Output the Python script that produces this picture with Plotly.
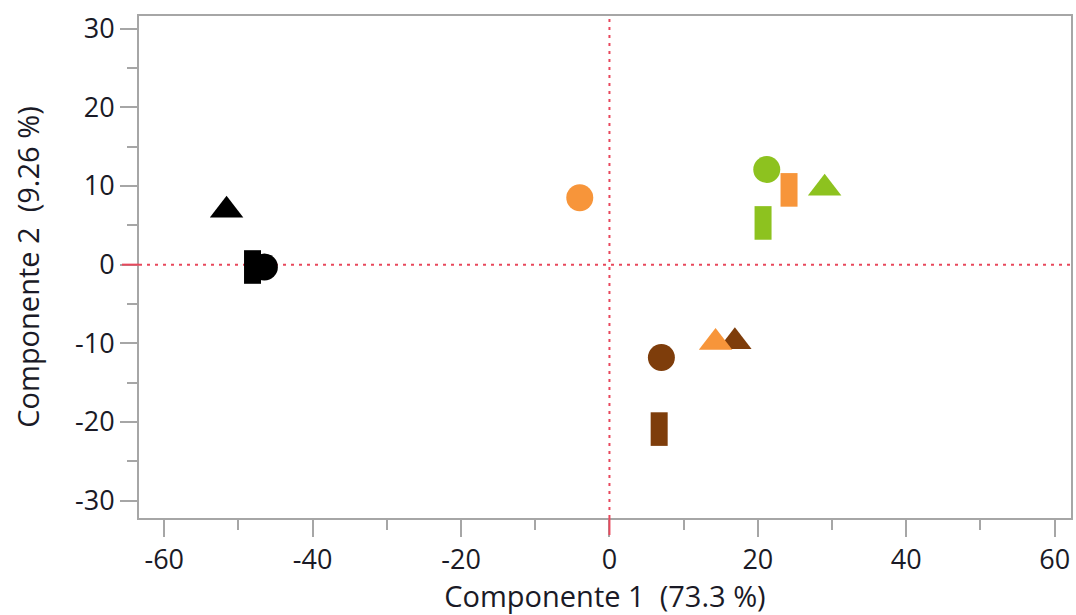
import plotly.graph_objects as go

# Scores (Componente 1, Componente 2)
group_colors = {"Negro": "#000000", "Naranja": "#F7953A", "Verde": "#8DC21F", "Marrón": "#7E3D0B"}

# circles
circle_group = ["Negro", "Naranja", "Verde", "Marrón"]
circle_x = [-46.5, -4.0, 21.2, 7.0]
circle_y = [-0.3, 8.5, 12.1, -11.8]

# rectangles
rect_group = ["Negro", "Naranja", "Verde", "Marrón"]
rect_x = [-48.1, 24.2, 20.7, 6.7]
rect_y = [-0.3, 9.5, 5.3, -20.9]

# triangles (brown drawn before orange so orange sits on top)
tri_group = ["Negro", "Verde", "Marrón", "Naranja"]
tri_x = [-51.6, 29.0, 16.9, 14.3]
tri_y = [6.9, 9.7, -9.8, -9.9]

x_ticks = [-60, -40, -20, 0, 20, 40, 60]
y_ticks = [-30, -20, -10, 0, 10, 20, 30]

AXIS_GRAY = "#A6A6A6"
REF_RED = "#E8485C"
TEXT = "#1A1A26"
FONT = "Open Sans"

fig = go.Figure()

fig.add_trace(go.Scatter(
    x=circle_x, y=circle_y, mode="markers",
    marker=dict(symbol="circle", size=27, color=[group_colors[g] for g in circle_group],
                line=dict(width=0)),
    hoverinfo="x+y", showlegend=False, cliponaxis=False))

rect_colors = [group_colors[g] for g in rect_group]
fig.add_trace(go.Scatter(
    x=rect_x, y=rect_y, mode="markers",
    marker=dict(symbol="line-ns-open", size=24, color=rect_colors,
                line=dict(width=17, color=rect_colors)),
    hoverinfo="x+y", showlegend=False, cliponaxis=False))

fig.add_trace(go.Scatter(
    x=tri_x, y=tri_y, mode="markers",
    marker=dict(symbol="triangle-up", size=29, color=[group_colors[g] for g in tri_group],
                line=dict(width=0)),
    hoverinfo="x+y", showlegend=False, cliponaxis=False))

# dotted reference lines at 0
fig.add_shape(type="line", xref="x", yref="paper", x0=0, x1=0, y0=0, y1=1,
              line=dict(color=REF_RED, width=2, dash="3px,5px"), layer="below")
fig.add_shape(type="line", xref="paper", yref="y", x0=0, x1=1, y0=0, y1=0,
              line=dict(color=REF_RED, width=2, dash="3px,5px"), layer="below")
# red tick marks at 0 on both axes
fig.add_shape(type="line", xref="x", yref="paper", ysizemode="pixel", yanchor=0,
              x0=0, x1=0, y0=-17, y1=0, line=dict(color=REF_RED, width=2), layer="above")
fig.add_shape(type="line", xref="paper", yref="y", xsizemode="pixel", xanchor=0,
              x0=-17, x1=0, y0=0, y1=0, line=dict(color=REF_RED, width=2), layer="above")

axis_common = dict(
    showgrid=False, zeroline=False, showline=True, linecolor=AXIS_GRAY, linewidth=2,
    mirror=True, ticks="outside", ticklen=17, tickwidth=2, tickcolor=AXIS_GRAY,
    tickfont=dict(family=FONT, size=27, color=TEXT),
)

fig.update_layout(
    width=1076, height=615,
    margin=dict(l=139, r=3, t=16, b=97),
    paper_bgcolor="white", plot_bgcolor="white",
    xaxis=dict(range=[-63.4, 62.2], tickvals=x_ticks,
               ticktext=[str(v) for v in x_ticks],
               minor=dict(dtick=10, tick0=0, ticks="outside", ticklen=10, tickwidth=2, tickcolor=AXIS_GRAY),
               title=dict(text="Componente 1  (73.3 %)", font=dict(family=FONT, size=29, color=TEXT),
                          standoff=2),
               **axis_common),
    yaxis=dict(range=[-32.2, 31.6], tickvals=y_ticks,
               ticktext=[str(v) for v in y_ticks],
               minor=dict(dtick=5, tick0=0, ticks="outside", ticklen=10, tickwidth=2, tickcolor=AXIS_GRAY),
               title=dict(text="Componente 2  (9.26 %)", font=dict(family=FONT, size=29, color=TEXT),
                          standoff=27),
               **axis_common),
)

fig.write_html("out.html", config={"displayModeBar": False},
               post_script="document.body.style.margin='0';document.body.style.overflow='hidden';")
